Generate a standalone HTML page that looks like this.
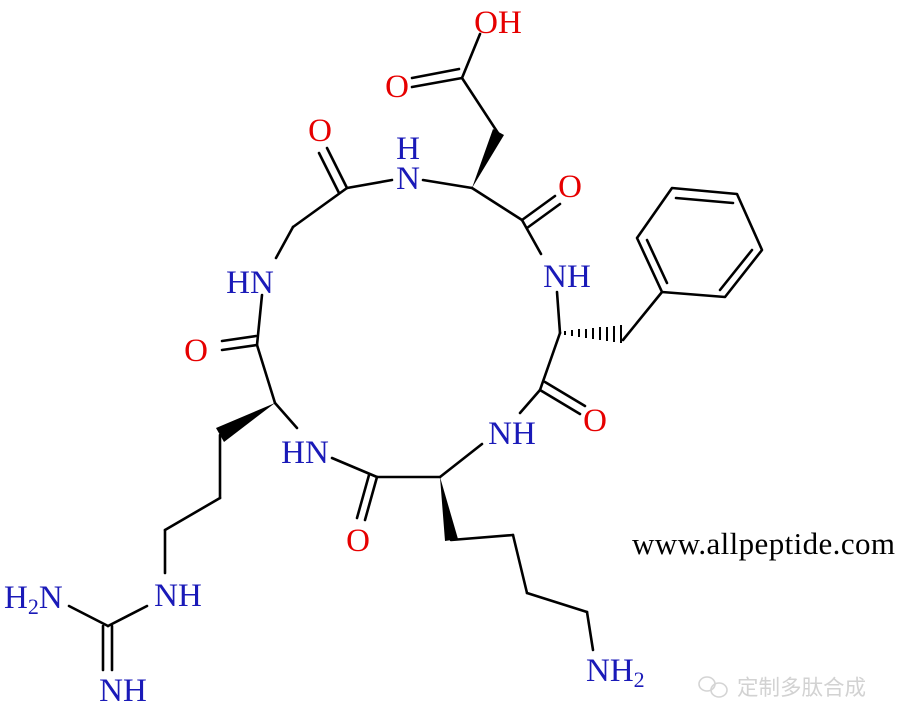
<!DOCTYPE html>
<html><head><meta charset="utf-8"><style>
html,body{margin:0;padding:0;background:#fff;}
svg{display:block;}
.a{font-family:"Liberation Serif",serif;font-size:33px;text-anchor:middle;}
.r{fill:#e60000;}
.b{fill:#1a1ab8;}
</style></head><body>
<svg width="900" height="728" viewBox="0 0 900 728" xmlns="http://www.w3.org/2000/svg">
<g stroke="#000" stroke-width="2.6" fill="none" stroke-linecap="round">
<line x1="480" y1="34" x2="462" y2="78"/>
<line x1="462" y1="78" x2="412" y2="87"/>
<line x1="459" y1="69" x2="412" y2="78"/>
<line x1="462" y1="78" x2="498" y2="133"/>
<line x1="423" y1="180" x2="472" y2="188"/>
<line x1="392" y1="180" x2="347" y2="188"/>
<line x1="347" y1="188" x2="327" y2="148"/>
<line x1="339" y1="193" x2="319" y2="153"/>
<line x1="347" y1="188" x2="293" y2="227"/>
<line x1="293" y1="227" x2="276" y2="258"/>
<line x1="262" y1="295" x2="257" y2="345"/>
<line x1="257" y1="345" x2="222" y2="350"/>
<line x1="256" y1="336" x2="222" y2="341"/>
<line x1="257" y1="345" x2="275" y2="403"/>
<line x1="220" y1="435" x2="220" y2="498"/>
<line x1="220" y1="498" x2="165" y2="530"/>
<line x1="165" y1="530" x2="165" y2="573"/>
<line x1="147" y1="606" x2="108" y2="626"/>
<line x1="108" y1="626" x2="69" y2="606"/>
<line x1="103" y1="626" x2="103" y2="670"/>
<line x1="112" y1="626" x2="112" y2="670"/>
<line x1="275" y1="403" x2="297" y2="428"/>
<line x1="332" y1="458" x2="377" y2="477"/>
<line x1="377" y1="477" x2="365" y2="520"/>
<line x1="369" y1="475" x2="357" y2="518"/>
<line x1="377" y1="477" x2="440" y2="477"/>
<line x1="451" y1="540" x2="513" y2="535"/>
<line x1="513" y1="535" x2="527" y2="593"/>
<line x1="527" y1="593" x2="587" y2="612"/>
<line x1="587" y1="612" x2="593" y2="650"/>
<line x1="440" y1="477" x2="482" y2="444"/>
<line x1="520" y1="413" x2="540" y2="390"/>
<line x1="540" y1="390" x2="580" y2="414"/>
<line x1="545" y1="382" x2="585" y2="406"/>
<line x1="540" y1="390" x2="560" y2="333"/>
<line x1="623" y1="340" x2="662" y2="292"/>
<line x1="560" y1="333" x2="557" y2="292"/>
<line x1="541" y1="254" x2="522" y2="220"/>
<line x1="522" y1="220" x2="555" y2="196"/>
<line x1="527" y1="228" x2="560" y2="204"/>
<line x1="522" y1="220" x2="472" y2="188"/>
<polygon points="662,292 637,238 672,188 737,194 762,250 725,297" stroke-linejoin="round"/>
<line x1="647" y1="240" x2="667" y2="283"/>
<line x1="676" y1="198" x2="733" y2="203"/>
<line x1="752" y1="250" x2="720" y2="290"/>
</g>
<g fill="#000">
<polygon points="472,188 493,129 504,135"/>
<polygon points="275,403 216,428 224,442"/>
<polygon points="440,477 445,541 458,539"/>
</g>
<g stroke="#000" stroke-width="2">
<line x1="565" y1="331" x2="565" y2="335"/>
<line x1="572" y1="330" x2="572" y2="336"/>
<line x1="579" y1="329" x2="579" y2="337"/>
<line x1="586" y1="329" x2="586" y2="338"/>
<line x1="593" y1="328" x2="593" y2="339"/>
<line x1="600" y1="327" x2="600" y2="340"/>
<line x1="607" y1="327" x2="607" y2="341"/>
<line x1="614" y1="326" x2="614" y2="342"/>
<line x1="621" y1="325" x2="621" y2="343"/>
</g>
<text class="a r" x="498" y="33">OH</text>
<text class="a r" x="397" y="97">O</text>
<text class="a r" x="320" y="141">O</text>
<text class="a b" x="408" y="159">H</text>
<text class="a b" x="408" y="189">N</text>
<text class="a r" x="570" y="197">O</text>
<text class="a b" x="250" y="293">HN</text>
<text class="a b" x="567" y="287">NH</text>
<text class="a r" x="196" y="361">O</text>
<text class="a b" x="305" y="463">HN</text>
<text class="a b" x="512" y="444">NH</text>
<text class="a r" x="595" y="431">O</text>
<text class="a r" x="358" y="551">O</text>
<text class="a b" x="178" y="606">NH</text>
<text class="a b" x="123" y="701">NH</text>
<text class="a b" x="4" y="608" style="text-anchor:start">H<tspan font-size="22" dy="6">2</tspan><tspan dy="-6">N</tspan></text>
<text class="a b" x="586" y="681" style="text-anchor:start">NH<tspan font-size="22" dy="6">2</tspan></text>
<text x="632" y="554" textLength="263" style="font-family:'Liberation Serif',serif;font-size:31px;fill:#000">www.allpeptide.com</text>
<g fill="none" stroke="#d4d4d4" stroke-width="1.6">
<ellipse cx="707" cy="684" rx="8" ry="7"/>
<ellipse cx="719" cy="690" rx="8" ry="7"/>
</g>
<text x="737" y="695" style="font-family:'Noto Sans CJK SC',sans-serif;font-size:21.5px;fill:#d2d2d2">定制多肽合成</text>
</svg>
</body></html>
